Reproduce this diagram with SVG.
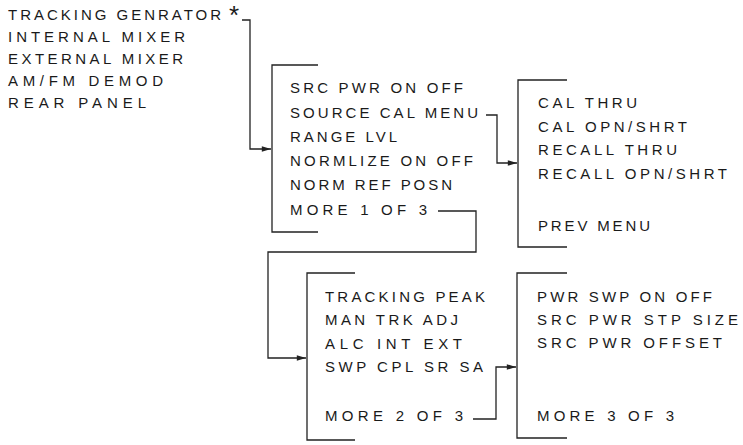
<svg xmlns="http://www.w3.org/2000/svg" width="743" height="445" viewBox="0 0 743 445">
<style>
.t{font-family:"Liberation Sans",Arial,sans-serif;font-size:15px;fill:#1a1a1a}
.br{fill:none;stroke:#222;stroke-width:1.3}
.cn{fill:none;stroke:#222;stroke-width:1.3;marker-end:url(#ah)}
</style>
<defs>
<marker id="ah" viewBox="0 0 10 6" refX="10" refY="3" markerWidth="10" markerHeight="5.5" markerUnits="userSpaceOnUse" orient="auto">
<path d="M0,0 L10,3 L0,6 z" fill="#222"/>
</marker>
</defs>
<rect width="743" height="445" fill="#fff"/>

<g id="mode-menu">
<text class="t" x="8" y="20" textLength="213" lengthAdjust="spacing">TRACKING GENRATOR</text>
<text class="t" x="229" y="24" style="font-size:26px">*</text>
<text class="t" x="8" y="42" textLength="177" lengthAdjust="spacing">INTERNAL MIXER</text>
<text class="t" x="8" y="64" textLength="175" lengthAdjust="spacing">EXTERNAL MIXER</text>
<text class="t" x="8" y="86" textLength="155" lengthAdjust="spacing">AM/FM DEMOD</text>
<text class="t" x="8" y="108" textLength="138" lengthAdjust="spacing">REAR PANEL</text>
</g>

<g id="menu-1">
<path class="br" d="M318,65 H272 V232 H318"/>
<text class="t" x="290" y="93" textLength="173" lengthAdjust="spacing">SRC PWR ON OFF</text>
<text class="t" x="290" y="117.5" textLength="188" lengthAdjust="spacing">SOURCE CAL MENU</text>
<text class="t" x="290" y="141.5" textLength="107" lengthAdjust="spacing">RANGE LVL</text>
<text class="t" x="290" y="166" textLength="183" lengthAdjust="spacing">NORMLIZE ON OFF</text>
<text class="t" x="290" y="190" textLength="162" lengthAdjust="spacing">NORM REF POSN</text>
<text class="t" x="290" y="214.5" textLength="137" lengthAdjust="spacing">MORE 1 OF 3</text>
</g>

<g id="cal-menu">
<path class="br" d="M567,80 H518 V247 H567"/>
<text class="t" x="538" y="108" textLength="99" lengthAdjust="spacing">CAL THRU</text>
<text class="t" x="538" y="131.5" textLength="149" lengthAdjust="spacing">CAL OPN/SHRT</text>
<text class="t" x="538" y="155" textLength="139" lengthAdjust="spacing">RECALL THRU</text>
<text class="t" x="538" y="178.5" textLength="189" lengthAdjust="spacing">RECALL OPN/SHRT</text>
<text class="t" x="538" y="231" textLength="112" lengthAdjust="spacing">PREV MENU</text>
</g>

<g id="menu-2">
<path class="br" d="M355,273 H307 V440 H355"/>
<text class="t" x="325" y="302" textLength="160" lengthAdjust="spacing">TRACKING PEAK</text>
<text class="t" x="325" y="325" textLength="133" lengthAdjust="spacing">MAN TRK ADJ</text>
<text class="t" x="325" y="349" textLength="137" lengthAdjust="spacing">ALC INT EXT</text>
<text class="t" x="325" y="372" textLength="158" lengthAdjust="spacing">SWP CPL SR SA</text>
<text class="t" x="325" y="421" textLength="138" lengthAdjust="spacing">MORE 2 OF 3</text>
</g>

<g id="menu-3">
<path class="br" d="M567,273 H517 V438 H567"/>
<text class="t" x="537" y="302" textLength="175" lengthAdjust="spacing">PWR SWP ON OFF</text>
<text class="t" x="537" y="325" textLength="201" lengthAdjust="spacing">SRC PWR STP SIZE</text>
<text class="t" x="537" y="348" textLength="185" lengthAdjust="spacing">SRC PWR OFFSET</text>
<text class="t" x="537" y="421" textLength="137" lengthAdjust="spacing">MORE 3 OF 3</text>
</g>

<g id="connectors">
<path class="cn" d="M242,20 H250 V149 H271"/>
<path class="cn" d="M486,115 H497 V163 H517"/>
<path class="cn" d="M438,211 H476 V252 H268 V358 H306"/>
<path class="cn" d="M473,419 H496 V367 H516"/>
</g>
</svg>
